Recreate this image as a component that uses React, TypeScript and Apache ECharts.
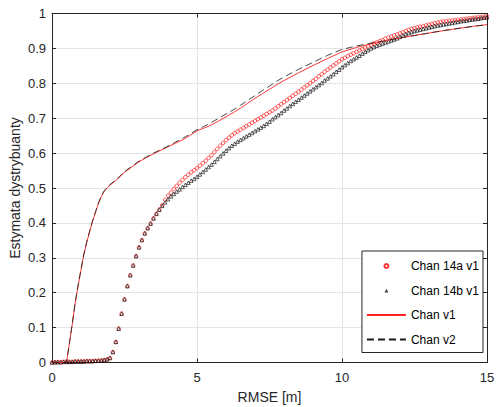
import React, { useEffect, useRef } from "react";
import * as echarts from "echarts";

// Marker series sampled every 0.1 m from 0 to 15 m
const markerStep = 0.1;
const chan14a = [
  0.000, 0.001, 0.001, 0.001, 0.002, 0.002, 0.002, 0.002, 0.003, 0.003,
  0.003, 0.003, 0.004, 0.004, 0.004, 0.005, 0.005, 0.006, 0.007, 0.009,
  0.013, 0.030, 0.059, 0.097, 0.140, 0.181, 0.219, 0.250, 0.278, 0.305,
  0.330, 0.351, 0.370, 0.385, 0.398, 0.413, 0.426, 0.438, 0.451, 0.466,
  0.478, 0.487, 0.497, 0.506, 0.515, 0.523, 0.531, 0.538, 0.545, 0.551,
  0.557, 0.564, 0.571, 0.578, 0.586, 0.594, 0.603, 0.612, 0.621, 0.629,
  0.637, 0.644, 0.651, 0.657, 0.662, 0.667, 0.672, 0.677, 0.682, 0.687,
  0.692, 0.697, 0.702, 0.707, 0.712, 0.717, 0.722, 0.728, 0.734, 0.740,
  0.746, 0.752, 0.758, 0.764, 0.770, 0.776, 0.782, 0.788, 0.794, 0.800,
  0.807, 0.813, 0.820, 0.826, 0.833, 0.839, 0.845, 0.851, 0.857, 0.863,
  0.869, 0.873, 0.878, 0.882, 0.886, 0.890, 0.894, 0.898, 0.902, 0.906,
  0.910, 0.914, 0.917, 0.921, 0.924, 0.928, 0.931, 0.934, 0.937, 0.940,
  0.943, 0.946, 0.950, 0.953, 0.956, 0.958, 0.960, 0.962, 0.964, 0.966,
  0.968, 0.970, 0.972, 0.974, 0.976, 0.977, 0.978, 0.979, 0.980, 0.981,
  0.982, 0.983, 0.984, 0.985, 0.986, 0.987, 0.988, 0.989, 0.990, 0.991,
  0.992,
];
const chan14b = [
  0.000, 0.001, 0.001, 0.001, 0.002, 0.002, 0.002, 0.002, 0.003, 0.003,
  0.003, 0.003, 0.004, 0.004, 0.004, 0.005, 0.005, 0.006, 0.007, 0.009,
  0.013, 0.030, 0.059, 0.097, 0.140, 0.181, 0.219, 0.250, 0.278, 0.305,
  0.330, 0.351, 0.370, 0.385, 0.398, 0.413, 0.426, 0.438, 0.449, 0.459,
  0.468, 0.476, 0.483, 0.490, 0.496, 0.503, 0.509, 0.515, 0.521, 0.526,
  0.532, 0.539, 0.546, 0.553, 0.560, 0.567, 0.575, 0.583, 0.591, 0.599,
  0.607, 0.614, 0.621, 0.627, 0.633, 0.638, 0.643, 0.648, 0.653, 0.658,
  0.663, 0.668, 0.673, 0.678, 0.684, 0.690, 0.697, 0.703, 0.709, 0.715,
  0.722, 0.728, 0.735, 0.741, 0.747, 0.753, 0.759, 0.765, 0.771, 0.777,
  0.783, 0.789, 0.795, 0.801, 0.808, 0.814, 0.820, 0.826, 0.833, 0.839,
  0.846, 0.852, 0.858, 0.864, 0.869, 0.874, 0.879, 0.885, 0.890, 0.895,
  0.900, 0.904, 0.908, 0.911, 0.914, 0.917, 0.920, 0.923, 0.926, 0.929,
  0.933, 0.937, 0.941, 0.944, 0.947, 0.950, 0.952, 0.954, 0.956, 0.958,
  0.960, 0.962, 0.964, 0.966, 0.967, 0.969, 0.970, 0.972, 0.973, 0.975,
  0.976, 0.978, 0.979, 0.980, 0.982, 0.983, 0.984, 0.985, 0.987, 0.988,
  0.989,
];

// Line series (x in metres, y = CDF estimate)
const lineX = [
  0, 0.5, 0.6, 0.7, 0.8, 0.9, 1.0, 1.1, 1.2, 1.3, 1.4, 1.5, 1.6, 1.7, 1.8, 1.9,
  2.0, 2.25, 2.5, 2.75, 3.0, 3.25, 3.5, 3.75, 4.0, 4.25, 4.5, 4.75, 5.0, 5.25,
  5.5, 5.75, 6.0, 6.25, 6.5, 6.75, 7.0, 7.25, 7.5, 7.75, 8.0, 8.5, 9.0, 9.5,
  10.0, 10.5, 11.0, 11.5, 12.0, 12.5, 13.0, 13.5, 14.0, 14.5, 15.0,
];
const chanV1 = [
  0, 0, 0.055, 0.11, 0.17, 0.22, 0.265, 0.31, 0.345, 0.375, 0.405, 0.43, 0.455,
  0.475, 0.49, 0.5, 0.508, 0.525, 0.545, 0.56, 0.575, 0.587, 0.598, 0.608,
  0.618, 0.628, 0.638, 0.65, 0.664, 0.672, 0.681, 0.692, 0.704, 0.716, 0.729,
  0.743, 0.757, 0.77, 0.783, 0.796, 0.808, 0.83, 0.851, 0.871, 0.89, 0.903,
  0.913, 0.922, 0.93, 0.937, 0.944, 0.951, 0.957, 0.963, 0.968,
];
const chanV2 = [
  0, 0, 0.055, 0.112, 0.172, 0.222, 0.267, 0.311, 0.346, 0.377, 0.407, 0.432,
  0.457, 0.477, 0.492, 0.502, 0.51, 0.527, 0.547, 0.562, 0.577, 0.589, 0.6,
  0.61, 0.62, 0.631, 0.642, 0.654, 0.667, 0.677, 0.688, 0.7, 0.712, 0.724,
  0.737, 0.751, 0.765, 0.779, 0.792, 0.806, 0.818, 0.84, 0.86, 0.88, 0.897,
  0.907, 0.915, 0.922, 0.93, 0.937, 0.944, 0.951, 0.957, 0.963, 0.968,
];

const seriesNames = ["Chan 14a v1", "Chan 14b v1", "Chan v1", "Chan v2"];
const xTicks = { min: 0, max: 15, interval: 5 };
const yTicks = { min: 0, max: 1, interval: 0.1 };
const xLabel = "RMSE [m]";
const yLabel = "Estymata dystrybuanty";

const FONT = "'Liberation Sans', Arial, Helvetica, sans-serif";
const INK = "#262626";
// small triangle centred in a 39x4 legend slot (corner points fix the box)
const TRI_ICON = "path://M0,0L0,0M39,4L39,4M17.6,4L19.5,0.4L21.4,4Z";

export default function App() {
  const ref = useRef<HTMLDivElement>(null);
  useEffect(() => {
    if (!ref.current) return;
    const chart = echarts.init(ref.current, undefined, { renderer: "svg" });
    const pairs = (xs: number[], ys: number[]) => ys.map((y, i) => [xs[i], y]);
    const markerPairs = (ys: number[]) =>
      ys.map((y, i) => [Number((i * markerStep).toFixed(1)), y]);
    const baseAxis = {
      axisLine: { show: true, onZero: false, lineStyle: { color: INK, width: 1 } },
      axisTick: { show: true, inside: true, length: 4, lineStyle: { color: INK } },
    };
    chart.setOption({
      animation: false,
      backgroundColor: "#ffffff",
      textStyle: { fontFamily: FONT },
      grid: {
        left: 52,
        right: 9,
        top: 13.5,
        bottom: 44.5,
        containLabel: false,
        outerBoundsMode: "none",
      },
      xAxis: [
        {
          type: "value",
          ...xTicks,
          position: "bottom",
          ...baseAxis,
          axisLabel: { color: INK, fontSize: 13, margin: 8, fontFamily: FONT },
          splitLine: { show: true, lineStyle: { color: "#e4e4e4", width: 1 } },
          name: xLabel,
          nameLocation: "middle",
          nameGap: 27,
          nameMoveOverlap: false,
          nameTextStyle: { color: INK, fontSize: 14, fontFamily: FONT },
        },
        {
          type: "value",
          ...xTicks,
          position: "top",
          ...baseAxis,
          axisLabel: { show: false },
          splitLine: { show: false },
        },
      ],
      yAxis: [
        {
          type: "value",
          ...yTicks,
          position: "left",
          ...baseAxis,
          axisLabel: { color: INK, fontSize: 13, margin: 6, fontFamily: FONT },
          splitLine: { show: true, lineStyle: { color: "#e4e4e4", width: 1 } },
          name: yLabel,
          nameLocation: "middle",
          nameGap: 30,
          nameMoveOverlap: false,
          nameTextStyle: { color: INK, fontSize: 14, fontFamily: FONT },
        },
        {
          type: "value",
          ...yTicks,
          position: "right",
          ...baseAxis,
          axisLabel: { show: false },
          splitLine: { show: false },
        },
      ],
      legend: {
        orient: "vertical",
        right: 13,
        top: 251,
        data: [
          { name: seriesNames[0] },
          {
            name: seriesNames[1],
            icon: TRI_ICON,
            itemStyle: { color: "#000000", borderWidth: 0 },
          },
          { name: seriesNames[2], itemStyle: { opacity: 0 } },
          { name: seriesNames[3], itemStyle: { opacity: 0 } },
        ],
        backgroundColor: "#ffffff",
        borderColor: INK,
        borderWidth: 1,
        borderRadius: 0,
        padding: [8, 4, 6, 4],
        itemGap: 10.5,
        itemWidth: 39,
        itemHeight: 4,
        textStyle: { color: "#000", fontSize: 12, fontFamily: FONT, lineHeight: 14 },
      },
      series: [
        {
          name: seriesNames[0],
          type: "scatter",
          data: markerPairs(chan14a),
          symbol: "circle",
          symbolSize: 3.6,
          symbolKeepAspect: true,
          itemStyle: { color: "rgba(0,0,0,0)", borderColor: "#ff0000", borderWidth: 0.8 },
          z: 2,
        },
        {
          name: seriesNames[1],
          type: "scatter",
          data: markerPairs(chan14b),
          symbol: "triangle",
          symbolSize: 3.6,
          symbolKeepAspect: true,
          itemStyle: { color: "rgba(0,0,0,0)", borderColor: "#000000", borderWidth: 0.8 },
          z: 3,
        },
        {
          name: seriesNames[2],
          type: "line",
          data: pairs(lineX, chanV1),
          showSymbol: false,
          symbol: "none",
          lineStyle: { color: "#ff2020", width: 0.9 },
          itemStyle: { color: "#ff2020" },
          z: 4,
        },
        {
          name: seriesNames[3],
          type: "line",
          data: pairs(lineX, chanV2),
          showSymbol: false,
          symbol: "none",
          lineStyle: { color: "#1a1a1a", width: 0.8, type: [7, 4] },
          itemStyle: { color: "#1a1a1a" },
          z: 5,
        },
      ],
    });
    return () => chart.dispose();
  }, []);
  return <div ref={ref} style={{ width: 496, height: 407, position: "absolute", left: 0, top: 0 }} />;
}
